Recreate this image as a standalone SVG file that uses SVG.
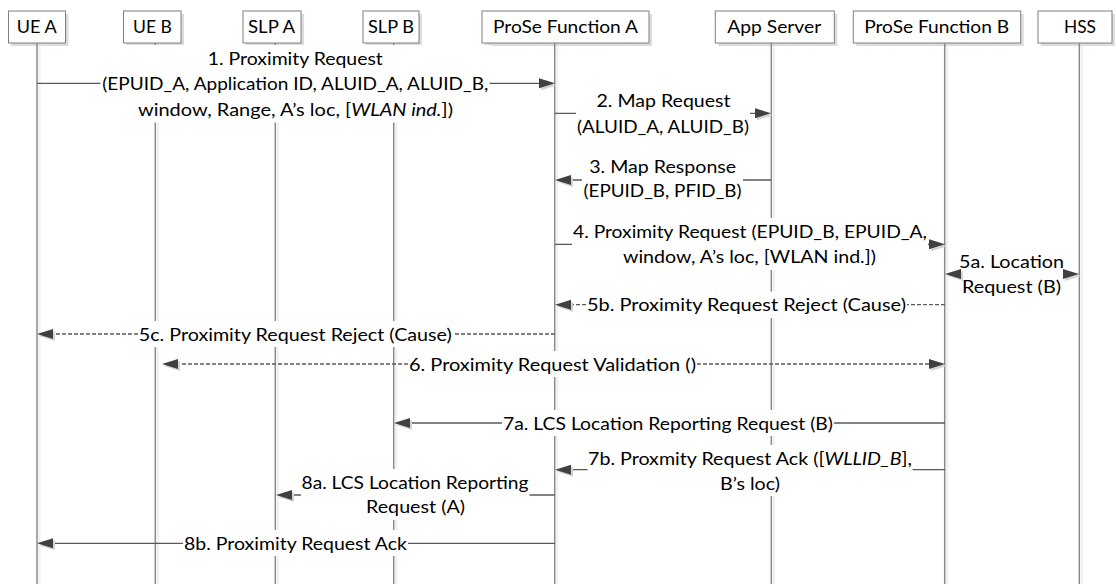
<svg xmlns="http://www.w3.org/2000/svg" width="1116" height="584" viewBox="0 0 1116 584">
<style>
.bx{fill:#fff;stroke:#7f7f7f;stroke-width:1}
.sh{fill:#dcdcdc}
.life{stroke:#8a8a8a;stroke-width:1.5;fill:none}
.lsh{stroke:#efefef;stroke-width:2;fill:none}
.msg{stroke:#595959;stroke-width:1.3;fill:none}
.msh{stroke:#ececec;stroke-width:1.5;fill:none}
.dash{stroke-dasharray:4 2}
.t{font-family:Lato,"Liberation Sans",sans-serif;font-size:18px;fill:#000;text-anchor:middle}
.bg{fill:#fff}
</style>
<defs>
<marker id="aR" markerUnits="userSpaceOnUse" markerWidth="24" markerHeight="16" refX="10" refY="6" orient="0" overflow="visible">
<path d="M4,3 L20,8 L4,13 Z" fill="#d4d4d4"/>
<path d="M2,1 L18,6 L2,11 Z" fill="#404040"/>
</marker>
<marker id="aL" markerUnits="userSpaceOnUse" markerWidth="24" markerHeight="16" refX="10" refY="6" orient="0" overflow="visible">
<path d="M20,3 L4,8 L20,13 Z" fill="#d4d4d4"/>
<path d="M18,1 L2,6 L18,11 Z" fill="#404040"/>
</marker>
</defs>
<rect width="1116" height="584" fill="#fff"/>

<g id="UE_A">
<rect class="sh" x="11.5" y="14" width="57" height="32"/>
<rect class="bx" x="8.5" y="11" width="57" height="32"/>
<line class="lsh" x1="39.5" y1="46" x2="39.5" y2="584"/>
<line class="life" x1="37" y1="43" x2="37" y2="584"/>
<text class="t" x="36.7" y="33.3" textLength="40" lengthAdjust="spacingAndGlyphs">UE A</text>
</g>
<g id="UE_B">
<rect class="sh" x="126.5" y="14" width="57.5" height="32"/>
<rect class="bx" x="123.5" y="11" width="57.5" height="32"/>
<line class="lsh" x1="157.8" y1="46" x2="157.8" y2="584"/>
<line class="life" x1="155.3" y1="43" x2="155.3" y2="584"/>
<text class="t" x="152.5" y="33.3" textLength="39" lengthAdjust="spacingAndGlyphs">UE B</text>
</g>
<g id="SLP_A">
<rect class="sh" x="246" y="14" width="58" height="32"/>
<rect class="bx" x="243" y="11" width="58" height="32"/>
<line class="lsh" x1="277.8" y1="46" x2="277.8" y2="584"/>
<line class="life" x1="275.3" y1="43" x2="275.3" y2="584"/>
<text class="t" x="271.5" y="33.3" textLength="47" lengthAdjust="spacingAndGlyphs">SLP A</text>
</g>
<g id="SLP_B">
<rect class="sh" x="366" y="14" width="56" height="32"/>
<rect class="bx" x="363" y="11" width="56" height="32"/>
<line class="lsh" x1="396.2" y1="46" x2="396.2" y2="584"/>
<line class="life" x1="393.7" y1="43" x2="393.7" y2="584"/>
<text class="t" x="391" y="33.3" textLength="46" lengthAdjust="spacingAndGlyphs">SLP B</text>
</g>
<g id="ProSe_A">
<rect class="sh" x="485" y="14" width="167" height="32"/>
<rect class="bx" x="482" y="11" width="167" height="32"/>
<line class="lsh" x1="557.2" y1="46" x2="557.2" y2="584"/>
<line class="life" x1="554.7" y1="43" x2="554.7" y2="584"/>
<text class="t" x="565.5" y="33.3" textLength="145" lengthAdjust="spacingAndGlyphs">ProSe Function A</text>
</g>
<g id="App_Server">
<rect class="sh" x="718.3" y="14" width="119" height="32"/>
<rect class="bx" x="715.3" y="11" width="119" height="32"/>
<line class="lsh" x1="773.8" y1="46" x2="773.8" y2="584"/>
<line class="life" x1="771.3" y1="43" x2="771.3" y2="584"/>
<text class="t" x="774.2" y="33.3" textLength="94" lengthAdjust="spacingAndGlyphs">App Server</text>
</g>
<g id="ProSe_B">
<rect class="sh" x="856.3" y="14" width="167.4" height="32"/>
<rect class="bx" x="853.3" y="11" width="167.4" height="32"/>
<line class="lsh" x1="947.2" y1="46" x2="947.2" y2="584"/>
<line class="life" x1="944.7" y1="43" x2="944.7" y2="584"/>
<text class="t" x="936.7" y="33.3" textLength="145" lengthAdjust="spacingAndGlyphs">ProSe Function B</text>
</g>
<g id="HSS">
<rect class="sh" x="1041" y="14" width="74" height="32"/>
<rect class="bx" x="1038" y="11" width="74" height="32"/>
<line class="lsh" x1="1081.8" y1="46" x2="1081.8" y2="584"/>
<line class="life" x1="1079.3" y1="43" x2="1079.3" y2="584"/>
<text class="t" x="1080" y="33.3" textLength="32" lengthAdjust="spacingAndGlyphs">HSS</text>
</g>

<g id="labels">
<rect class="bg" x="99.5" y="45" width="391" height="77.5"/>
<rect class="bg" x="575" y="88" width="176" height="51"/>
<rect class="bg" x="582" y="153" width="161.5" height="51"/>
<rect class="bg" x="572" y="218" width="356" height="52"/>
<rect class="bg" x="958" y="249" width="107" height="50"/>
<rect class="bg" x="586" y="291.5" width="321" height="26.5"/>
<rect class="bg" x="138" y="321" width="315" height="26"/>
<rect class="bg" x="408" y="351" width="289" height="26"/>
<rect class="bg" x="502" y="410" width="332" height="26"/>
<rect class="bg" x="587" y="445" width="326" height="51"/>
<rect class="bg" x="300.5" y="469" width="229" height="51"/>
<rect class="bg" x="183" y="530" width="225" height="26"/>

<text class="t" x="295.3" y="65" textLength="175" lengthAdjust="spacingAndGlyphs">1. Proximity Request</text>
<text class="t" x="295.3" y="90" textLength="386" lengthAdjust="spacingAndGlyphs">(EPUID_A, Application ID, ALUID_A, ALUID_B,</text>
<text class="t" x="295.5" y="116" textLength="315" lengthAdjust="spacingAndGlyphs">window, Range, A’s loc, [<tspan font-style="italic">WLAN ind.</tspan>])</text>

<text class="t" x="663.5" y="107.3" textLength="134" lengthAdjust="spacingAndGlyphs">2. Map Request</text>
<text class="t" x="663" y="132.7" textLength="172" lengthAdjust="spacingAndGlyphs">(ALUID_A, ALUID_B)</text>

<text class="t" x="662.7" y="172.7" textLength="147" lengthAdjust="spacingAndGlyphs">3. Map Response</text>
<text class="t" x="662.5" y="197.3" textLength="158" lengthAdjust="spacingAndGlyphs">(EPUID_B, PFID_B)</text>

<text class="t" x="750" y="237.7" textLength="354" lengthAdjust="spacingAndGlyphs">4. Proximity Request (EPUID_B, EPUID_A,</text>
<text class="t" x="749.5" y="263.3" textLength="253" lengthAdjust="spacingAndGlyphs">window, A’s loc, [WLAN ind.])</text>

<text class="t" x="1011.5" y="268.3" textLength="105" lengthAdjust="spacingAndGlyphs">5a. Location</text>
<text class="t" x="1011.5" y="292.7" textLength="99" lengthAdjust="spacingAndGlyphs">Request (B)</text>

<text class="t" x="746.5" y="311" textLength="319" lengthAdjust="spacingAndGlyphs">5b. Proximity Request Reject (Cause)</text>
<text class="t" x="295.3" y="340.5" textLength="313" lengthAdjust="spacingAndGlyphs">5c. Proximity Request Reject (Cause)</text>
<text class="t" x="552.5" y="370.5" textLength="287" lengthAdjust="spacingAndGlyphs">6. Proximity Request Validation ()</text>
<text class="t" x="668" y="429.5" textLength="330" lengthAdjust="spacingAndGlyphs">7a. LCS Location Reporting Request (B)</text>

<text class="t" x="750" y="464.5" textLength="324" lengthAdjust="spacingAndGlyphs">7b. Proxmity Request Ack ([<tspan font-style="italic">WLLID_B</tspan>],</text>
<text class="t" x="750" y="489.5" textLength="60" lengthAdjust="spacingAndGlyphs">B’s loc)</text>

<text class="t" x="415" y="488.5" textLength="227" lengthAdjust="spacingAndGlyphs">8a. LCS Location Reporting</text>
<text class="t" x="415.5" y="513.2" textLength="99" lengthAdjust="spacingAndGlyphs">Request (A)</text>

<text class="t" x="295.5" y="550" textLength="223" lengthAdjust="spacingAndGlyphs">8b. Proximity Request Ack</text>
</g>

<g id="connectors">
<path class="msg" d="M37,83.3 H100.5 M489.5,83.3 H547" marker-end="url(#aR)"/>
<path class="msg" d="M555,113.3 H576 M750,113.3 H763" marker-end="url(#aR)"/>
<path class="msg" d="M771,180 H743 M582,180 H563" marker-end="url(#aL)"/>
<path class="msg" d="M555,244.3 H572 M928,244.3 H937" marker-end="url(#aR)"/>
<path class="msg" d="M953,274 H958 M1065,274 H1071" marker-start="url(#aL)" marker-end="url(#aR)"/>
<path class="msg dash" d="M945,304.7 H907 M586,304.7 H563" marker-end="url(#aL)"/>
<path class="msg dash" d="M555,334 H453 M138,334 H45" marker-end="url(#aL)"/>
<path class="msg dash" d="M170,364 H408 M697,364 H937" marker-start="url(#aL)" marker-end="url(#aR)"/>
<path class="msg" d="M945,423 H834 M502,423 H402" marker-end="url(#aL)"/>
<path class="msg" d="M945,469.7 H912.5 M587.5,469.7 H563" marker-end="url(#aL)"/>
<path class="msg" d="M555,495 H529.5 M301,495 H284" marker-end="url(#aL)"/>
<path class="msg" d="M555,543.3 H408 M183,543.3 H45" marker-end="url(#aL)"/>
</g>
</svg>
